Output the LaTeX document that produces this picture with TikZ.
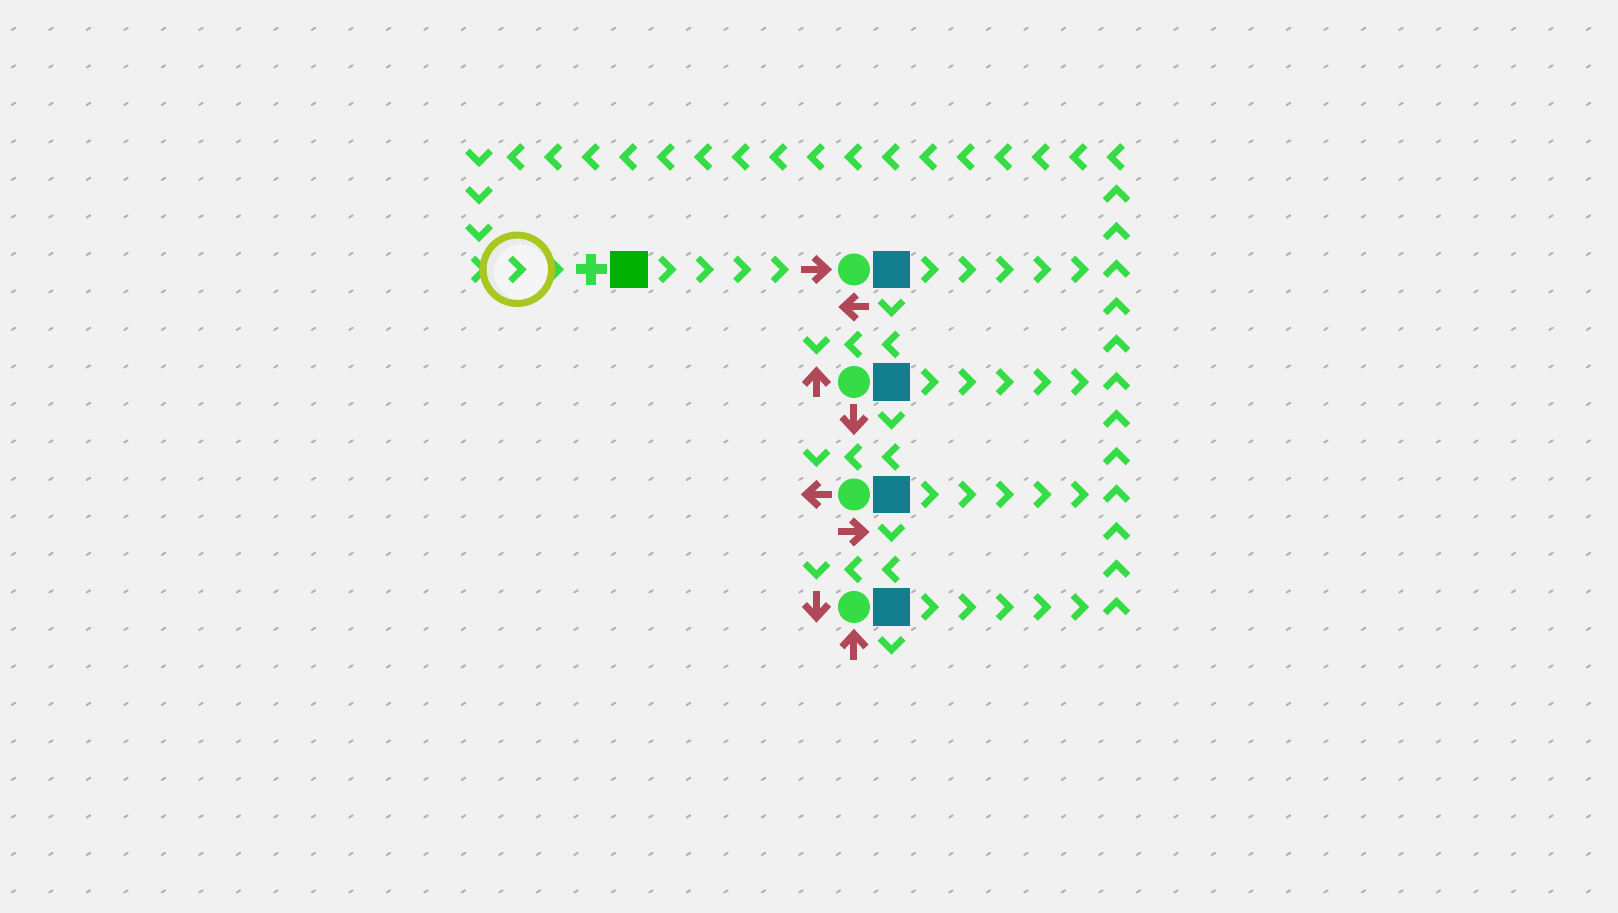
\documentclass[tikz,border=0pt]{standalone}
\usetikzlibrary{calc}
\definecolor{bgcol}{RGB}{241,241,241}
\definecolor{tickcol}{RGB}{178,178,178}
\definecolor{chevgreen}{RGB}{53,220,69}
\definecolor{redarr}{RGB}{176,72,88}
\definecolor{tealsq}{RGB}{19,127,142}
\definecolor{greensq}{RGB}{0,176,0}
\definecolor{ringcol}{RGB}{168,200,32}
\tikzset{
  chev/.style={draw=chevgreen, line width=6.5pt, line join=miter},
  rarr/.style={draw=redarr, line width=7pt, line join=miter},
  gridtick/.style={draw=tickcol, line width=2pt, line cap=round},
}
\newcommand\cx[1]{28.95+37.5*#1}
\newcommand\cy[1]{44.45+37.5*#1}
\newcommand\chevat[3]{\draw[chev, shift={({\cx{#1}},{\cy{#2}})}, rotate=#3] (-6,-11.5)--(5.5,0)--(-6,11.5);}
\newcommand\redat[3]{\begin{scope}[shift={({\cx{#1}},{\cy{#2}})}, rotate=#3]
  \draw[rarr] (-15.5,0)--(9,0);
  \draw[rarr] (-2.5,-12)--(10.5,0)--(-2.5,12);
\end{scope}}
\newcommand\ballat[2]{\fill[chevgreen] ({\cx{#1}},{\cy{#2}}) circle (16);}
\newcommand\tealat[2]{\fill[tealsq] ({10.2+37.5*#1},{25.7+37.5*#2}) rectangle ++(37.5,37.5);}
\begin{document}
\begin{tikzpicture}[x=1pt,y=-1pt]
\fill[bgcol] (0,0) rectangle (1618,913);
\useasboundingbox (0,0) rectangle (1618,913);
% grid ticks
\foreach \i in {0,...,42}{
  \foreach \j in {0,...,23}{
    \draw[gridtick] ({10.2+37.5*\i+1.5},{25.7+37.5*\j+4.3}) -- ++(3.5,-2.2);
  }
}
% top row
\chevat{12}{3}{270}
\foreach \c in {13,...,29}{\chevat{\c}{3}{180}}
\chevat{12}{4}{270}
\chevat{12}{5}{270}
% right column
\foreach \r in {4,...,15}{\chevat{29}{\r}{90}}
% row 6
\chevat{12}{6}{0}
\chevat{14}{6}{0}
\foreach \c in {17,...,20}{\chevat{\c}{6}{0}}
% plus
\fill[chevgreen] ({\cx{15}-15.3},{\cy{6}-5}) rectangle ({\cx{15}+15.3},{\cy{6}+5});
\fill[chevgreen] ({\cx{15}-5},{\cy{6}-15.3}) rectangle ({\cx{15}+5},{\cy{6}+15.3});
% green square
\fill[greensq] ({10.2+37.5*16},{25.7+37.5*6}) rectangle ++(37.5,37.5);
% branches
\foreach \r in {6,9,12,15}{
  \ballat{22}{\r}
  \tealat{23}{\r}
  \foreach \c in {24,...,28}{\chevat{\c}{\r}{0}}
}
\foreach \r in {8,11,14}{
  \chevat{21}{\r}{270}
  \chevat{22}{\r}{180}
  \chevat{23}{\r}{180}
}
\foreach \r in {7,10,13,16}{\chevat{23}{\r}{270}}
\redat{21}{6}{0}
\redat{22}{7}{180}
\redat{21}{9}{90}
\redat{22}{10}{270}
\redat{21}{12}{180}
\redat{22}{13}{0}
\redat{21}{15}{270}
\redat{22}{16}{90}
% ring
\coordinate (ringc) at (517.3,269.3);
\fill[black!8] (ringc) circle (31);
\fill[black!4] ($(ringc)+(4,3)$) circle (27.5);
\chevat{13}{6}{0}
\draw[ringcol, line width=7pt] (ringc) circle (34.2);
\end{tikzpicture}
\end{document}
